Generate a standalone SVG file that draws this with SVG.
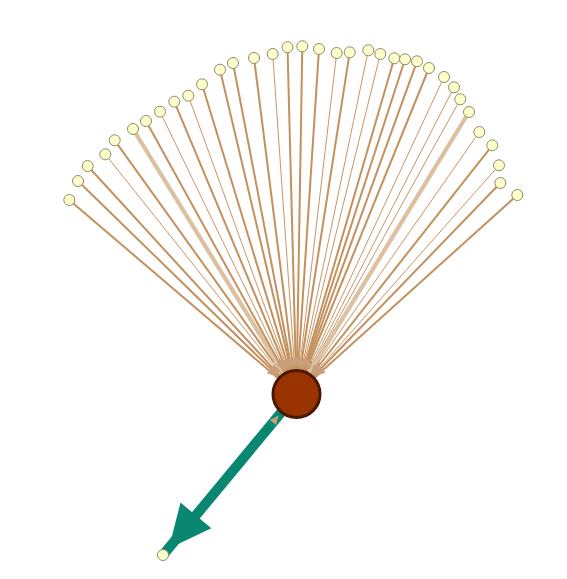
<svg xmlns="http://www.w3.org/2000/svg" width="567" height="579" viewBox="0 0 567 579">
<style>
.e{fill:none;stroke-linecap:butt}
.m{stroke:#c4915e;stroke-width:2;marker-end:url(#am)}
.t{stroke:#b97a40;stroke-width:0.8;marker-end:url(#at)}
.k{stroke:#dcc0a0;stroke-width:4.2;marker-end:url(#ak)}
.n{fill:#ffffcc;stroke:#8c8c6c;stroke-width:1}
</style>
<defs>
<marker id="am" markerUnits="userSpaceOnUse" viewBox="0 -5 10 10" markerWidth="10" markerHeight="10" refX="36" refY="0" orient="auto" overflow="visible"><path d="M0,-3.5L9,0L0,3.5z" fill="#c9a07a"/></marker>
<marker id="at" markerUnits="userSpaceOnUse" viewBox="0 -5 10 10" markerWidth="10" markerHeight="10" refX="34" refY="0" orient="auto" overflow="visible"><path d="M0,-3L7,0L0,3z" fill="#c9a07a"/></marker>
<marker id="ak" markerUnits="userSpaceOnUse" viewBox="0 -6 14 12" markerWidth="14" markerHeight="12" refX="39" refY="0" orient="auto" overflow="visible"><path d="M0,-5L12,0L0,5z" fill="#dcc0a0"/></marker>
<marker id="ab" markerUnits="userSpaceOnUse" viewBox="0 -5 10 10" markerWidth="10" markerHeight="10" refX="37" refY="0" orient="auto" overflow="visible"><path d="M0,-4L9,0L0,4z" fill="#c9a07a"/></marker>
</defs>
<g id="edges">
<line class="e m" x1="69.3" y1="200" x2="296.5" y2="394"/>
<line class="e m" x1="78" y1="181" x2="296.5" y2="394"/>
<line class="e m" x1="87.7" y1="166" x2="296.5" y2="394"/>
<line class="e t" x1="105.3" y1="154.3" x2="296.5" y2="394"/>
<line class="e m" x1="114.7" y1="140.3" x2="296.5" y2="394"/>
<line class="e k" x1="133" y1="129" x2="296.5" y2="394"/>
<line class="e m" x1="146" y1="121" x2="296.5" y2="394"/>
<line class="e t" x1="160" y1="111.7" x2="296.5" y2="394"/>
<line class="e m" x1="174.3" y1="101.7" x2="296.5" y2="394"/>
<line class="e t" x1="188.3" y1="95.7" x2="296.5" y2="394"/>
<line class="e m" x1="202" y1="84.3" x2="296.5" y2="394"/>
<line class="e m" x1="220" y1="69.7" x2="296.5" y2="394"/>
<line class="e m" x1="233" y1="63" x2="296.5" y2="394"/>
<line class="e m" x1="254" y1="58" x2="296.5" y2="394"/>
<line class="e t" x1="272.7" y1="54" x2="296.5" y2="394"/>
<line class="e m" x1="287.5" y1="47.2" x2="296.5" y2="394"/>
<line class="e m" x1="302.3" y1="46.3" x2="296.5" y2="394"/>
<line class="e m" x1="319" y1="49" x2="296.5" y2="394"/>
<line class="e t" x1="336.7" y1="53" x2="296.5" y2="394"/>
<line class="e m" x1="349.7" y1="52.3" x2="296.5" y2="394"/>
<line class="e t" x1="368.3" y1="50.3" x2="296.5" y2="394"/>
<line class="e t" x1="380.3" y1="54" x2="296.5" y2="394"/>
<line class="e m" x1="394.3" y1="58.3" x2="296.5" y2="394"/>
<line class="e m" x1="405" y1="59.3" x2="296.5" y2="394"/>
<line class="e m" x1="417" y1="61.3" x2="296.5" y2="394"/>
<line class="e m" x1="429" y1="68" x2="296.5" y2="394"/>
<line class="e t" x1="444" y1="77" x2="296.5" y2="394"/>
<line class="e t" x1="454" y1="87.3" x2="296.5" y2="394"/>
<line class="e t" x1="460.3" y1="99.3" x2="296.5" y2="394"/>
<line class="e k" x1="469" y1="112" x2="296.5" y2="394"/>
<line class="e t" x1="479.3" y1="132" x2="296.5" y2="394"/>
<line class="e m" x1="492.3" y1="145.3" x2="296.5" y2="394"/>
<line class="e t" x1="499" y1="165.3" x2="296.5" y2="394"/>
<line class="e m" x1="500.3" y1="183" x2="296.5" y2="394"/>
<line class="e m" x1="517.3" y1="195" x2="296.5" y2="394"/>
<line x1="296.5" y1="394" x2="163" y2="555" stroke="#0a8770" stroke-width="10"/>
<polygon points="168.8,548.6 211.3,528.2 180.5,502.6" fill="#0a8770"/>
<line x1="163" y1="555" x2="296.5" y2="394" stroke="none" marker-end="url(#ab)"/>
</g>
<g id="hub"><circle cx="296.5" cy="394" r="23.5" fill="#993300" stroke="#4a1800" stroke-width="3"/></g>
<g id="n1"><circle class="n" cx="69.3" cy="200" r="5.5"/></g>
<g id="n2"><circle class="n" cx="78" cy="181" r="5.5"/></g>
<g id="n3"><circle class="n" cx="87.7" cy="166" r="5.5"/></g>
<g id="n4"><circle class="n" cx="105.3" cy="154.3" r="5.5"/></g>
<g id="n5"><circle class="n" cx="114.7" cy="140.3" r="5.5"/></g>
<g id="n6"><circle class="n" cx="133" cy="129" r="5.5"/></g>
<g id="n7"><circle class="n" cx="146" cy="121" r="5.5"/></g>
<g id="n8"><circle class="n" cx="160" cy="111.7" r="5.5"/></g>
<g id="n9"><circle class="n" cx="174.3" cy="101.7" r="5.5"/></g>
<g id="n10"><circle class="n" cx="188.3" cy="95.7" r="5.5"/></g>
<g id="n11"><circle class="n" cx="202" cy="84.3" r="5.5"/></g>
<g id="n12"><circle class="n" cx="220" cy="69.7" r="5.5"/></g>
<g id="n13"><circle class="n" cx="233" cy="63" r="5.5"/></g>
<g id="n14"><circle class="n" cx="254" cy="58" r="5.5"/></g>
<g id="n15"><circle class="n" cx="272.7" cy="54" r="5.5"/></g>
<g id="n16"><circle class="n" cx="287.5" cy="47.2" r="5.5"/></g>
<g id="n17"><circle class="n" cx="302.3" cy="46.3" r="5.5"/></g>
<g id="n18"><circle class="n" cx="319" cy="49" r="5.5"/></g>
<g id="n19"><circle class="n" cx="336.7" cy="53" r="5.5"/></g>
<g id="n20"><circle class="n" cx="349.7" cy="52.3" r="5.5"/></g>
<g id="n21"><circle class="n" cx="368.3" cy="50.3" r="5.5"/></g>
<g id="n22"><circle class="n" cx="380.3" cy="54" r="5.5"/></g>
<g id="n23"><circle class="n" cx="394.3" cy="58.3" r="5.5"/></g>
<g id="n24"><circle class="n" cx="405" cy="59.3" r="5.5"/></g>
<g id="n25"><circle class="n" cx="417" cy="61.3" r="5.5"/></g>
<g id="n26"><circle class="n" cx="429" cy="68" r="5.5"/></g>
<g id="n27"><circle class="n" cx="444" cy="77" r="5.5"/></g>
<g id="n28"><circle class="n" cx="454" cy="87.3" r="5.5"/></g>
<g id="n29"><circle class="n" cx="460.3" cy="99.3" r="5.5"/></g>
<g id="n30"><circle class="n" cx="469" cy="112" r="5.5"/></g>
<g id="n31"><circle class="n" cx="479.3" cy="132" r="5.5"/></g>
<g id="n32"><circle class="n" cx="492.3" cy="145.3" r="5.5"/></g>
<g id="n33"><circle class="n" cx="499" cy="165.3" r="5.5"/></g>
<g id="n34"><circle class="n" cx="500.3" cy="183" r="5.5"/></g>
<g id="n35"><circle class="n" cx="517.3" cy="195" r="5.5"/></g>
<g id="n36"><circle class="n" cx="163" cy="555" r="5.5"/></g>
</svg>
